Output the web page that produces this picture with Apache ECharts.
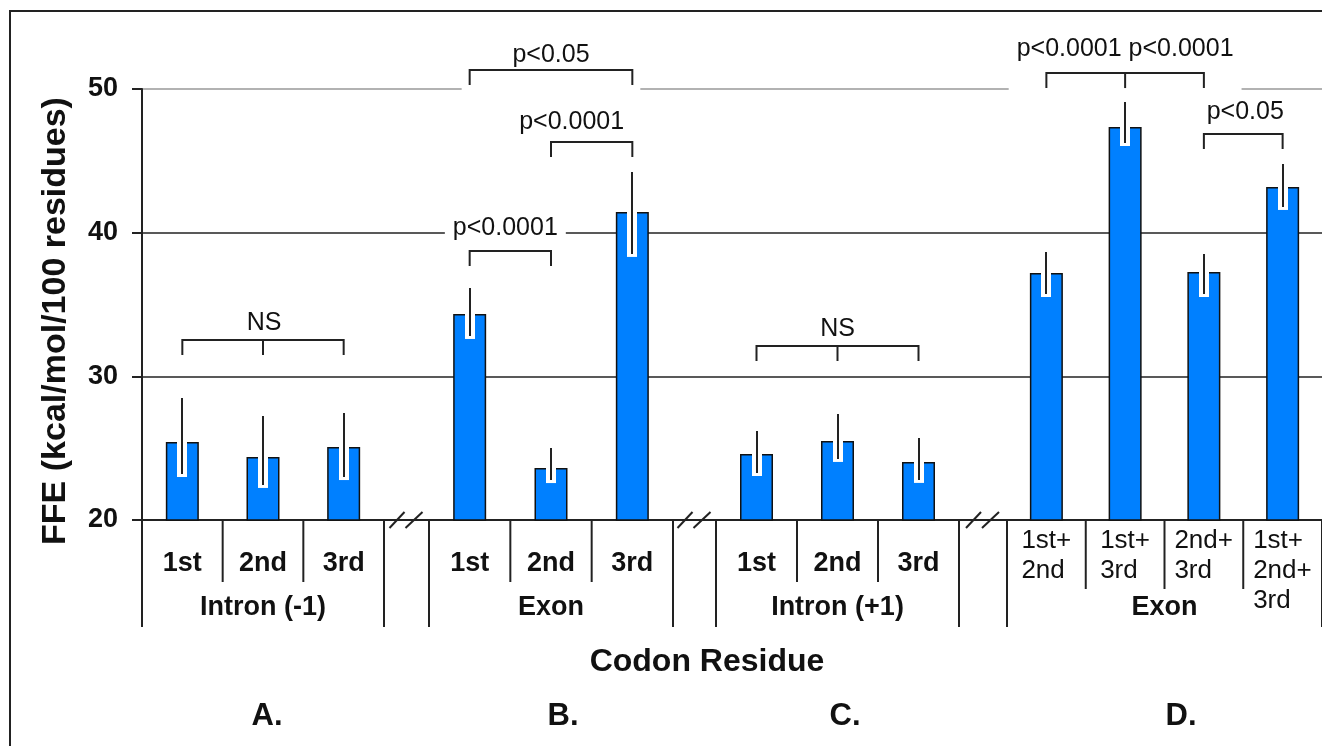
<!DOCTYPE html>
<html>
<head>
<meta charset="utf-8">
<script src="https://cdn.jsdelivr.net/npm/echarts@6/dist/echarts.min.js"></script>
<style>
html,body{margin:0;padding:0;background:#fff;}
#chart{width:1322px;height:746px;}
</style>
</head>
<body>
<div id="chart"></div>
<script>
// ---------------- DATA ----------------
const groupNames = ['Intron (-1)', 'Exon', 'Intron (+1)', 'Exon'];
const panelLetters = ['A.', 'B.', 'C.', 'D.'];
const yTitle = 'FFE (kcal/mol/100 residues)';
const xTitle = 'Codon Residue';

const catsA = ['1st', '2nd', '3rd'];
const catsB = ['1st', '2nd', '3rd'];
const catsC = ['1st', '2nd', '3rd'];
const catsD = ['1st+\n2nd', '1st+\n3rd', '2nd+\n3rd', '1st+\n2nd+\n3rd'];

const valsA = [25.43, 24.39, 25.08];
const valsB = [34.34, 23.62, 41.44];
const valsC = [24.59, 25.50, 24.04];
const valsD = [37.19, 47.35, 37.26, 43.18];

const errUpA = [3.06, 2.85, 2.37];
const errUpB = [1.81, 1.39, 2.78];
const errUpC = [1.60, 1.88, 1.67];
const errUpD = [1.46, 1.74, 1.25, 1.60];

const errDownA = [2.23, 1.95, 2.09];
const errDownB = [1.53, 0.84, 2.92];
const errDownC = [1.32, 1.25, 1.25];
const errDownD = [1.46, 1.11, 1.53, 1.39];

const yMin = 20, yMax = 50, yStep = 10;

// significance brackets (category indexes within a panel, level in FFE units)
const bracketGroup = [0, 1, 1, 1, 2, 3, 3];
const bracketFrom  = [0, 0, 1, 0, 0, 0, 2];
const bracketTo    = [2, 1, 2, 2, 2, 2, 3];
const bracketMid   = [1, -1, -1, -1, 1, 1, -1];
const bracketLevel = [32.53, 38.72, 46.31, 51.32, 32.11, 51.11, 46.87];
const bracketText  = ['NS', 'p<0.0001', 'p<0.0001', 'p<0.05', 'NS', 'p<0.0001 p<0.0001', 'p<0.05'];

// ---------------- STYLE / LAYOUT ----------------
const FONT = '"Liberation Sans", Arial, Helvetica, sans-serif';
const INK = '#111';
const LINE = '#222';
const BAR = '#0080FF';
const gridTop = 89, gridHeight = 431;
const panelLayout = [
  {left: 142, width: 242},
  {left: 429, width: 244},
  {left: 716, width: 243},
  {left: 1007, width: 324}
];
const bracketLift  = [9, 15, 12, 7, 9, 16, 14];
const bracketShift = [1, -5, -20, 0, 0, 0, 2];

const cats = [catsA, catsB, catsC, catsD];
const vals = [valsA, valsB, valsC, valsD];
const ups = [errUpA, errUpB, errUpC, errUpD];
const downs = [errDownA, errDownB, errDownC, errDownD];

const mctx = document.createElement('canvas').getContext('2d');
function textWidth(t, font) { mctx.font = font; return mctx.measureText(t).width; }

const chart = echarts.init(document.getElementById('chart'), null, {renderer: 'canvas'});

function errRender(params, api) {
  const i = api.value(0), v = api.value(1), up = api.value(2), dn = api.value(3);
  const pTop = api.coord([i, v]);
  const pHi = api.coord([i, v + up]);
  const pLo = api.coord([i, v - dn]);
  const x = Math.round(pTop[0]);
  return {
    type: 'group',
    children: [
      {type: 'rect', shape: {x: x - 5, y: pTop[1] - 2, width: 10, height: pLo[1] - pTop[1] + 5}, style: {fill: '#fff'}},
      {type: 'line', shape: {x1: x, y1: pHi[1], x2: x, y2: pLo[1]}, style: {stroke: LINE, lineWidth: 2}}
    ]
  };
}

function sepRender(n, shortLen, longLen) {
  return function (params, api) {
    const k = api.value(0);
    const p = api.coord([k, yMin]);
    const w = api.size([1, 0])[0];
    const xl = p[0] - w / 2;
    const ch = [{type: 'line', shape: {x1: xl, y1: p[1], x2: xl, y2: p[1] + (k === 0 ? longLen : shortLen)},
      style: {stroke: LINE, lineWidth: 2}}];
    if (k === n - 1) {
      const xr = p[0] + w / 2;
      ch.push({type: 'line', shape: {x1: xr, y1: p[1], x2: xr, y2: p[1] + longLen}, style: {stroke: LINE, lineWidth: 2}});
    }
    return {type: 'group', children: ch};
  };
}

const bracketFont = '25px ' + FONT;
function bracketRender(params, api) {
  const a = api.value(0), b = api.value(1), m = api.value(2), lv = api.value(3), id = api.value(4);
  const pa = api.coord([a, lv]), pb = api.coord([b, lv]);
  const y = pa[1], tick = 15;
  const txt = bracketText[id];
  const tw = textWidth(txt, bracketFont);
  const cx = (pa[0] + pb[0]) / 2 + bracketShift[id];
  const ty = y - bracketLift[id] - 8;
  const left = Math.min(pa[0], cx - tw / 2) - 8;
  const right = Math.max(pb[0], cx + tw / 2) + 8;
  const top = ty - 15, bottom = y + tick + 5;
  const ch = [
    {type: 'rect', shape: {x: left, y: top, width: right - left, height: bottom - top}, style: {fill: '#fff'}},
    {type: 'polyline', shape: {points: [[pa[0], y + tick], [pa[0], y], [pb[0], y], [pb[0], y + tick]]},
      style: {stroke: LINE, lineWidth: 2, fill: null}}
  ];
  if (m >= 0) {
    const pm = api.coord([m, lv]);
    ch.push({type: 'line', shape: {x1: pm[0], y1: y, x2: pm[0], y2: y + tick}, style: {stroke: LINE, lineWidth: 2}});
  }
  ch.push({type: 'text', x: cx, y: ty, style: {text: txt, font: bracketFont, fill: INK, align: 'center', verticalAlign: 'middle'}});
  return {type: 'group', children: ch};
}

const grids = [{left: 142, top: gridTop, width: 1200, height: gridHeight}];
const xAxes = [{
  gridIndex: 0, type: 'value', min: 0, max: 1,
  axisLine: {show: true, onZero: false, lineStyle: {color: LINE, width: 2}},
  axisTick: {show: false}, axisLabel: {show: false}, splitLine: {show: false}
}];
const yAxes = [{
  gridIndex: 0, type: 'value', min: yMin, max: yMax, interval: yStep,
  axisLine: {show: true, onZero: false, lineStyle: {color: LINE, width: 2}},
  axisTick: {show: true, length: 10, lineStyle: {color: LINE, width: 2}},
  axisLabel: {fontFamily: FONT, fontSize: 27, fontWeight: 'bold', color: INK, margin: 24},
  splitLine: {show: true, lineStyle: {color: ['#222', '#222', '#222', '#999'], width: 1.5}}
}];
const series = [];

for (let g = 0; g < 4; g++) {
  grids.push({left: panelLayout[g].left, top: gridTop, width: panelLayout[g].width, height: gridHeight});
  const isD = g === 3;
  const labelCfg = isD ? {
    interval: 0, margin: 6, color: INK,
    formatter: function (v, idx) { return v.split('\n').map(s => '{l' + idx + '|' + s + '}').join('\n'); },
    rich: (function () {
      const r = {};
      catsD.forEach((c, idx) => {
        const w = Math.max.apply(null, c.split('\n').map(s => textWidth(s, '26px ' + FONT)));
        r['l' + idx] = {width: Math.ceil(w), align: 'left', fontFamily: FONT, fontSize: 26, lineHeight: 30, color: INK};
      });
      return r;
    })()
  } : {interval: 0, margin: 30, fontFamily: FONT, fontSize: 27, fontWeight: 'bold', color: INK};
  xAxes.push({
    gridIndex: g + 1, type: 'category', data: cats[g],
    axisLine: {show: false}, axisTick: {show: false}, splitLine: {show: false},
    axisLabel: labelCfg,
    name: groupNames[g], nameLocation: 'middle', nameGap: 74, nameMoveOverlap: false,
    nameTextStyle: {fontFamily: FONT, fontSize: 27, fontWeight: 'bold', color: INK}
  });
  yAxes.push({gridIndex: g + 1, type: 'value', min: yMin, max: yMax, show: false, splitLine: {show: false}});

  series.push({
    type: 'bar', xAxisIndex: g + 1, yAxisIndex: g + 1, data: vals[g], barWidth: 33, z: 2, silent: true,
    itemStyle: {color: BAR, borderColor: '#111', borderWidth: 1.5}
  });
  series.push({
    type: 'custom', xAxisIndex: g + 1, yAxisIndex: g + 1, z: 3, silent: true,
    renderItem: errRender, encode: {x: 0, y: 1},
    data: vals[g].map((v, k) => [k, v, ups[g][k], downs[g][k]])
  });
  series.push({
    type: 'custom', xAxisIndex: g + 1, yAxisIndex: g + 1, z: 3, silent: true,
    renderItem: sepRender(cats[g].length, isD ? 69 : 62, 107), encode: {x: 0, y: 1},
    data: cats[g].map((c, k) => [k, yMin])
  });
  const bData = [];
  bracketGroup.forEach((gg, id) => {
    if (gg === g) bData.push([bracketFrom[id], bracketTo[id], bracketMid[id], bracketLevel[id], id]);
  });
  if (bData.length) {
    series.push({
      type: 'custom', xAxisIndex: g + 1, yAxisIndex: g + 1, z: 4, silent: true,
      renderItem: bracketRender, encode: {x: 0, y: 3}, data: bData
    });
  }
}

const graphics = [
  {type: 'rect', shape: {x: 10, y: 11, width: 1400, height: 800}, style: {fill: null, stroke: '#222', lineWidth: 2}, z: 0},
  {type: 'text', x: 56, y: 321, rotation: Math.PI / 2,
    style: {text: yTitle, font: 'bold 34px ' + FONT, fill: INK, align: 'center', verticalAlign: 'middle'}},
  {type: 'text', x: 707, y: 662,
    style: {text: xTitle, font: 'bold 32px ' + FONT, fill: INK, align: 'center', verticalAlign: 'middle'}}
];
const letterX = [267, 563, 845, 1181];
panelLetters.forEach((t, i) => {
  graphics.push({type: 'text', x: letterX[i], y: 716,
    style: {text: t, font: 'bold 31px ' + FONT, fill: INK, align: 'center', verticalAlign: 'middle'}});
});
// break marks between panels
const baseY = gridTop + gridHeight;
for (let g = 0; g < 3; g++) {
  const cx = (panelLayout[g].left + panelLayout[g].width + panelLayout[g + 1].left) / 2;
  graphics.push({type: 'line', shape: {x1: cx - 17, y1: baseY + 8, x2: cx - 2, y2: baseY - 8}, style: {stroke: LINE, lineWidth: 2}, z: 10});
  graphics.push({type: 'line', shape: {x1: cx - 1, y1: baseY + 8, x2: cx + 16, y2: baseY - 8}, style: {stroke: LINE, lineWidth: 2}, z: 10});
}

chart.setOption({
  animation: false,
  backgroundColor: '#fff',
  grid: grids,
  xAxis: xAxes,
  yAxis: yAxes,
  series: series,
  graphic: graphics
});
</script>
</body>
</html>
